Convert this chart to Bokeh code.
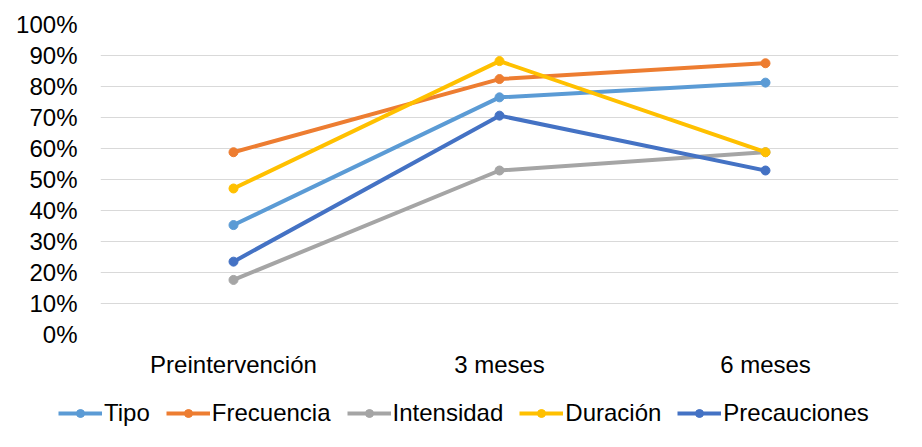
from bokeh.plotting import figure
from bokeh.layouts import column, row
from bokeh.models import FactorRange, Range1d, FixedTicker, NumeralTickFormatter, Legend, LegendItem
from bokeh.embed import file_html
from bokeh.resources import INLINE

categories = ["Preintervención", "3 meses", "6 meses"]
series_names = ["Tipo", "Frecuencia", "Intensidad", "Duración", "Precauciones"]
tipo = [0.353, 0.765, 0.8125]
frecuencia = [0.588, 0.824, 0.875]
intensidad = [0.176, 0.529, 0.588]
duracion = [0.471, 0.882, 0.588]
precauciones = [0.235, 0.706, 0.529]
y_ticks = [0.0, 0.1, 0.2, 0.3, 0.4, 0.5, 0.6, 0.7, 0.8, 0.9, 1.0]

colors = ["#5B9BD5", "#ED7D31", "#A5A5A5", "#FFC000", "#4472C4"]
values = [tipo, frecuencia, intensidad, duracion, precauciones]

FONT = "Liberation Sans"

p = figure(
    x_range=FactorRange(*categories),
    y_range=Range1d(0, 1),
    width=906, height=380,
    output_backend="svg", toolbar_location=None,
    min_border_left=100, min_border_right=8, min_border_top=24, min_border_bottom=44,
)
p.outline_line_color = None
p.background_fill_color = "white"
p.border_fill_color = "white"

p.xgrid.grid_line_color = None
p.ygrid.grid_line_color = "#D9D9D9"
p.ygrid.grid_line_width = 1

p.yaxis.ticker = FixedTicker(ticks=y_ticks)
p.yaxis.formatter = NumeralTickFormatter(format="0%")
for ax in (p.xaxis[0], p.yaxis[0]):
    ax.axis_line_color = None
    ax.major_tick_line_color = None
    ax.minor_tick_line_color = None
    ax.major_tick_out = 0
    ax.major_tick_in = 0
    ax.major_label_text_font = FONT
    ax.major_label_text_font_size = "24px"
    ax.major_label_text_color = "#000000"
p.yaxis.major_label_standoff = 23
p.xaxis.major_label_standoff = 16

for name, vals, col in zip(series_names, values, colors):
    p.line(categories, vals, line_color=col, line_width=4)
    p.scatter(categories, vals, size=9, fill_color=col, line_color=col)

# legend strip: a separate figure whose renderers (same series, plotted out of
# its visible range) only serve to draw the legend glyphs
lg = figure(width=906, height=51, x_range=Range1d(-10, -9), y_range=Range1d(0, 1),
            x_axis_type=None, y_axis_type=None,
            output_backend="svg", toolbar_location=None,
            min_border_left=0, min_border_right=0, min_border_top=0, min_border_bottom=0)
lg.grid.visible = False
lg.outline_line_color = None
lg.border_fill_color = "white"
lg.background_fill_color = "white"

idx = list(range(len(categories)))
items = []
for name, vals, col in zip(series_names, values, colors):
    r1 = lg.line(idx, vals, line_color=col, line_width=4)
    r2 = lg.scatter(idx, vals, size=9, fill_color=col, line_color=col)
    items.append(LegendItem(label=name, renderers=[r1, r2]))

legend = Legend(items=items, orientation="horizontal", location=(58, 4),
                label_text_font=FONT, label_text_font_size="24px",
                label_text_color="#000000",
                glyph_width=44, glyph_height=20, label_standoff=2, spacing=16,
                padding=0, margin=0, border_line_color=None,
                background_fill_alpha=0)
lg.add_layout(legend)

layout = column(p, row(lg), spacing=0)
open("out.html", "w").write(file_html(layout, INLINE))
